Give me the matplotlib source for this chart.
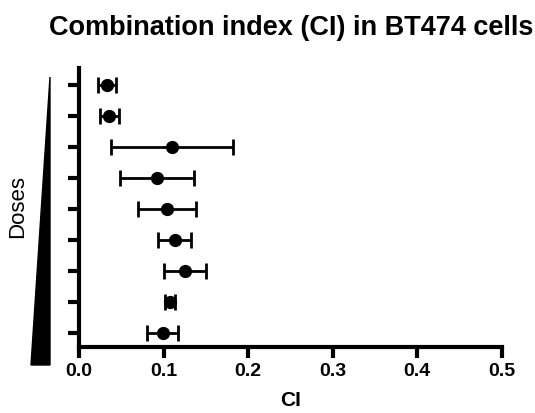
import matplotlib.pyplot as plt
from matplotlib.patches import Polygon

# CI values, listed from top row (lowest dose) to bottom row (highest dose)
ci_mean = [0.033, 0.036, 0.110, 0.092, 0.104, 0.113, 0.125, 0.108, 0.099]
ci_err = [0.011, 0.011, 0.072, 0.044, 0.034, 0.020, 0.025, 0.006, 0.018]
dose_pos = [9, 8, 7, 6, 5, 4, 3, 2, 1]
x_ticks = [0.0, 0.1, 0.2, 0.3, 0.4, 0.5]

plt.rcParams['font.family'] = ['Liberation Sans', 'DejaVu Sans']

fig = plt.figure(figsize=(5.35, 4.13), dpi=100)
W, H = 535, 413
ax = fig.add_axes([79 / W, 1 - 346.7 / H, (501.7 - 79) / W, (346.7 - 68) / H])

ax.errorbar(ci_mean, dose_pos, xerr=ci_err, fmt='o', color='black',
            markersize=8.5, elinewidth=2, capsize=5.5, capthick=2)

ax.set_xlim(0, 0.5)
ax.set_ylim(0.55, 9.55)
ax.set_xticks(x_ticks)
ax.set_xticklabels(['%.1f' % t for t in x_ticks], fontsize=14, fontweight='bold')
ax.set_yticks(dose_pos)
ax.set_yticklabels([])
ax.tick_params(axis='y', length=8, width=3, direction='out')
ax.tick_params(axis='x', length=8, width=3, direction='out', pad=4)
for side in ['top', 'right']:
    ax.spines[side].set_visible(False)
for side in ['left', 'bottom']:
    ax.spines[side].set_linewidth(3)
ax.set_xlabel('CI', fontsize=15, fontweight='bold', labelpad=8)

fig.text(291.5 / W, 1 - 28 / H, 'Combination index (CI) in BT474 cells',
         ha='center', va='center', fontsize=19.5, fontweight='bold')
fig.text(17.5 / W, 1 - 207 / H, 'Doses', rotation=90, ha='center', va='center',
         fontsize=16)

tri = Polygon([(50 / W, 1 - 77 / H), (31 / W, 1 - 365 / H), (50 / W, 1 - 365 / H)],
              closed=True, facecolor='black', edgecolor='black',
              transform=fig.transFigure)
fig.patches.append(tri)

fig.savefig('out.png', dpi=100)
